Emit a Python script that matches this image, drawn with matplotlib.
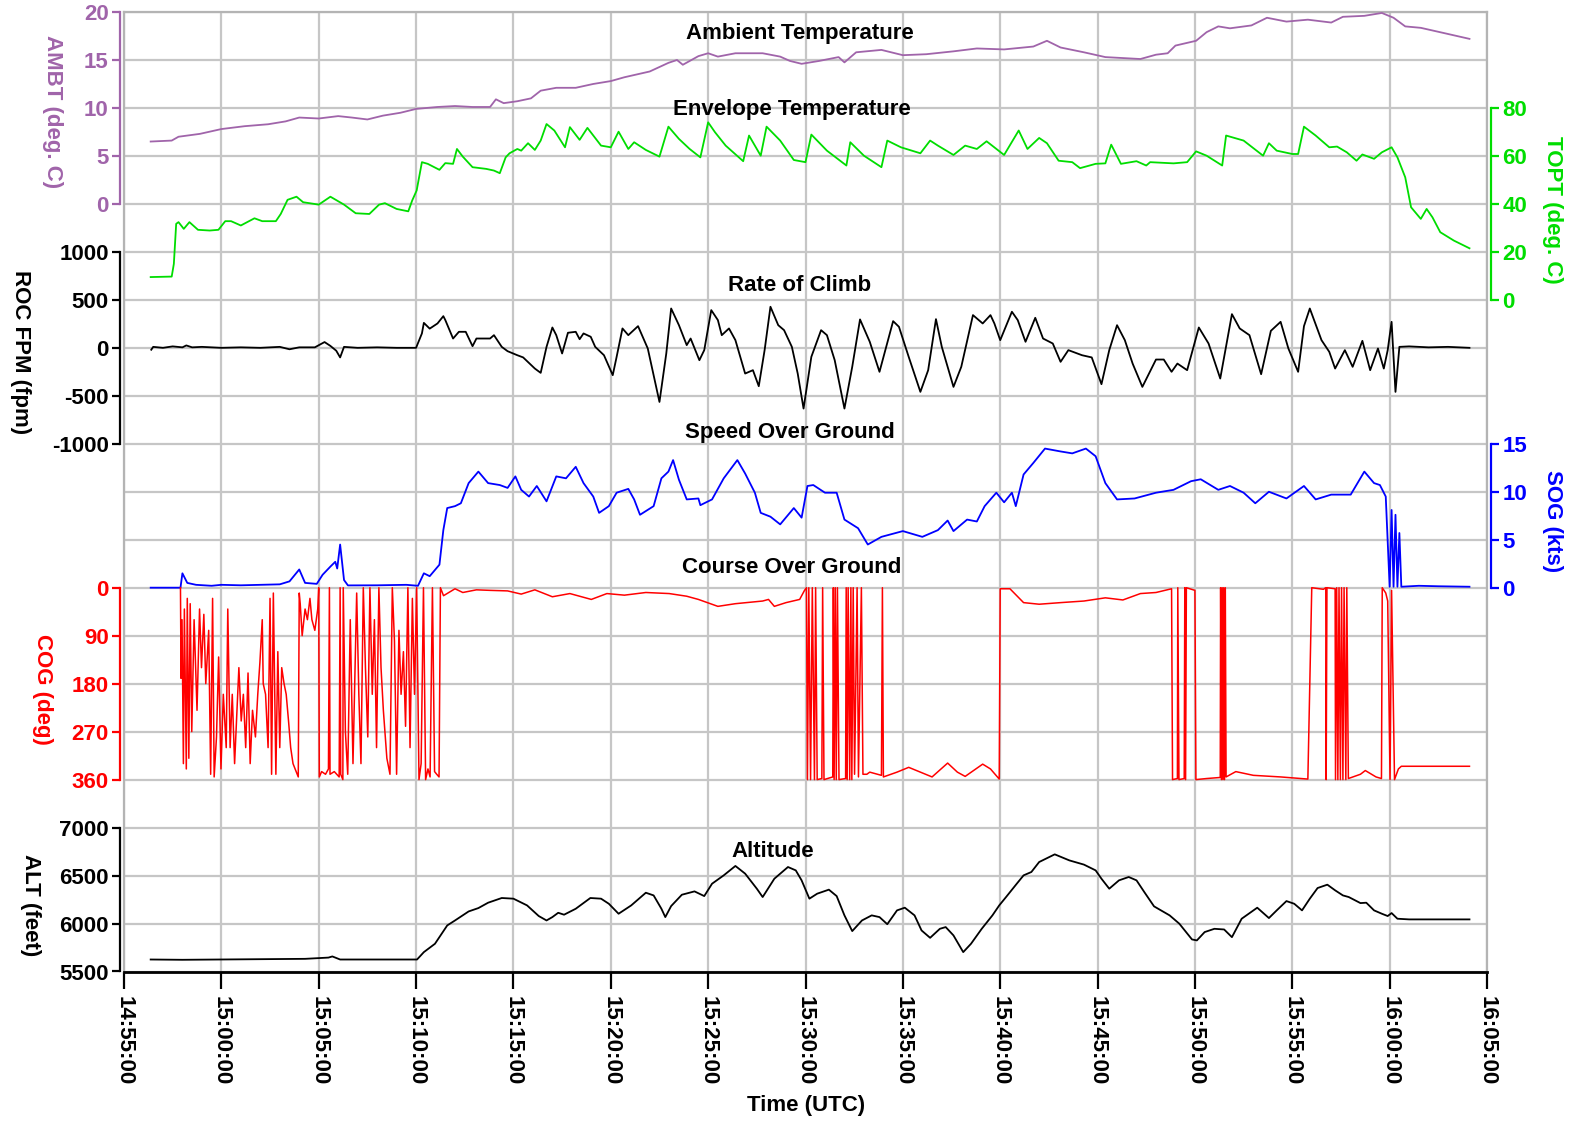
import matplotlib
matplotlib.use("Agg")
import matplotlib.pyplot as plt

plt.rcParams['font.family'] = ['Liberation Sans', 'DejaVu Sans']
plt.rcParams['font.weight'] = 'bold'

# ---------------- data (time in minutes after 14:55:00) ----------------
x_ticks = [0, 5, 10, 15, 20, 25, 30, 35, 40, 45, 50, 55, 60, 65, 70]
x_tick_labels = ["14:55:00", "15:00:00", "15:05:00", "15:10:00", "15:15:00",
                 "15:20:00", "15:25:00", "15:30:00", "15:35:00", "15:40:00",
                 "15:45:00", "15:50:00", "15:55:00", "16:00:00", "16:05:00"]

ambt = [(1.37, 6.5), (2.45, 6.6), (2.8, 7.0), (3.9, 7.3), (5.0, 7.8), (6.2, 8.1), (7.4, 8.3),
        (8.3, 8.6), (9.0, 9.0), (10.0, 8.9), (11.0, 9.15), (11.7, 9.0), (12.5, 8.8), (13.3, 9.2),
        (14.2, 9.5), (15.0, 9.9), (16.1, 10.1), (17.0, 10.2), (17.9, 10.1), (18.8, 10.1),
        (19.1, 10.9), (19.5, 10.5), (20.2, 10.7), (20.9, 11.0), (21.4, 11.8), (22.2, 12.1),
        (23.2, 12.1), (24.1, 12.5), (25.0, 12.8), (25.7, 13.2), (27.0, 13.8), (27.96, 14.7),
        (28.4, 15.0), (28.7, 14.5), (29.5, 15.4), (30.0, 15.7), (30.5, 15.35), (31.4, 15.7),
        (32.8, 15.7), (33.7, 15.35), (34.2, 14.9), (34.8, 14.6), (35.7, 14.9), (36.7, 15.3),
        (37.0, 14.75), (37.6, 15.8), (38.9, 16.05), (40.0, 15.5), (41.2, 15.6), (42.6, 15.9),
        (43.8, 16.2), (45.2, 16.1), (46.7, 16.4), (47.4, 17.0), (48.1, 16.3), (49.3, 15.8),
        (50.4, 15.3), (52.2, 15.1), (53.0, 15.55), (53.6, 15.7), (54.0, 16.5), (55.06, 17.0),
        (55.6, 17.9), (56.2, 18.5), (56.8, 18.3), (57.9, 18.6), (58.7, 19.4), (59.7, 19.0),
        (60.8, 19.2), (62.0, 18.9), (62.6, 19.5), (63.7, 19.6), (64.6, 19.9), (65.2, 19.4),
        (65.8, 18.5), (66.6, 18.35), (67.8, 17.8), (69.1, 17.2)]

topt = [(1.37, 9.5), (2.45, 9.7), (2.56, 15), (2.68, 31.7), (2.8, 32.4), (3.07, 29.6), (3.36, 32.4),
        (3.8, 29.2), (4.4, 28.9), (4.85, 29.2), (5.2, 32.8), (5.5, 32.8), (6.0, 31.0), (6.7, 34.0),
        (7.1, 32.8), (7.8, 32.8), (8.05, 35.8), (8.4, 41.7), (8.86, 43.0), (9.2, 40.7), (10.0, 39.7),
        (10.6, 43.0), (11.3, 39.7), (11.9, 36.1), (12.6, 35.8), (13.1, 39.7), (13.4, 40.3),
        (14.0, 37.9), (14.6, 36.9), (14.8, 41.4), (15.03, 45.6), (15.3, 57.4), (15.6, 56.7),
        (16.2, 54.2), (16.5, 57.0), (16.9, 56.7), (17.1, 62.9), (17.4, 59.7), (17.9, 55.3),
        (18.6, 54.6), (19.0, 53.9), (19.3, 52.8), (19.6, 59.4), (19.8, 61.1), (20.2, 62.9),
        (20.4, 62.2), (20.75, 65.3), (21.1, 62.5), (21.4, 66.4), (21.7, 73.3), (22.1, 70.6),
        (22.65, 63.6), (22.9, 72.0), (23.4, 66.7), (23.8, 71.7), (24.5, 64.3), (25.0, 63.6),
        (25.4, 70.1), (25.9, 62.9), (26.2, 65.7), (26.8, 62.5), (27.5, 59.7), (27.96, 72.2),
        (28.5, 67.1), (29.05, 62.9), (29.6, 59.4), (30.0, 74.0), (30.35, 69.9), (30.9, 64.3),
        (31.8, 57.8), (32.1, 68.5), (32.7, 60.1), (33.0, 72.2), (33.7, 66.4), (34.4, 58.3),
        (35.0, 57.4), (35.3, 68.9), (36.1, 62.2), (37.1, 56.0), (37.3, 65.7), (38.0, 60.1),
        (38.9, 55.3), (39.2, 66.4), (39.9, 63.6), (40.9, 61.1), (41.4, 66.4), (41.8, 64.3),
        (42.6, 60.4), (43.2, 64.3), (43.8, 62.9), (44.3, 66.1), (45.2, 60.4), (45.95, 70.6),
        (46.4, 62.9), (47.0, 67.5), (47.4, 65.3), (48.0, 58.0), (48.7, 57.4), (49.1, 54.9),
        (49.9, 56.7), (50.4, 56.9), (50.7, 64.7), (51.2, 56.7), (52.0, 57.8), (52.5, 56.0),
        (52.7, 57.4), (53.9, 56.9), (54.6, 57.4), (55.06, 61.9), (55.6, 60.1), (56.4, 56.0),
        (56.6, 68.5), (57.5, 66.4), (58.5, 60.1), (58.8, 65.3), (59.2, 62.2), (60.0, 60.8),
        (60.3, 60.8), (60.6, 72.2), (61.2, 68.5), (61.9, 63.6), (62.3, 63.9), (62.8, 61.5),
        (63.3, 58.0), (63.6, 60.6), (64.2, 58.8), (64.6, 61.5), (65.1, 63.6), (65.4, 59.4),
        (65.8, 51.1), (66.1, 38.6), (66.6, 33.75), (66.9, 37.9), (67.2, 34.4), (67.6, 28.2),
        (68.3, 24.7), (69.1, 21.5)]

roc = [(1.4, -20), (1.5, 10), (2.0, 0), (2.5, 15), (3.0, 5), (3.2, 25), (3.5, 5), (4.0, 10),
       (5.0, 0), (6.0, 5), (7.0, 0), (8.0, 10), (8.5, -15), (9.0, 5), (9.8, 5), (10.3, 60),
       (10.6, 20), (10.9, -30), (11.1, -100), (11.3, 10), (12.0, 0), (13.0, 5), (14.0, 0),
       (15.0, 0), (15.3, 150), (15.4, 260), (15.7, 200), (16.1, 254), (16.4, 330), (16.5, 290),
       (16.9, 97), (17.2, 167), (17.55, 167), (17.9, 17), (18.1, 97), (18.8, 97), (19.0, 132),
       (19.4, 10), (19.7, -35), (20.2, -77), (20.5, -100), (21.1, -216), (21.4, -261), (21.7, 10),
       (22.0, 212), (22.2, 132), (22.5, -59), (22.8, 157), (23.2, 167), (23.4, 90), (23.6, 150),
       (23.97, 115), (24.2, 10), (24.65, -77), (25.1, -285), (25.3, -94), (25.6, 202),
       (25.9, 132), (26.4, 226), (26.9, -7), (27.5, -564), (27.85, -59), (28.1, 410),
       (28.5, 236), (28.9, 28), (29.1, 97), (29.55, -129), (29.8, -24), (30.16, 393),
       (30.5, 289), (30.7, 132), (31.07, 202), (31.4, 80), (31.9, -268), (32.3, -233),
       (32.6, -400), (32.9, -24), (33.2, 428), (33.6, 236), (33.9, 184), (34.3, 10),
       (34.6, -268), (34.9, -633), (35.3, -94), (35.8, 184), (36.1, 132), (36.5, -129),
       (37.0, -633), (37.4, -198), (37.8, 296), (38.3, 63), (38.8, -250), (39.1, -24),
       (39.5, 278), (39.8, 219), (40.3, -94), (40.9, -459), (41.3, -233), (41.7, 299),
       (42.0, 10), (42.6, -407), (43.0, -198), (43.6, 341), (44.1, 254), (44.5, 341),
       (44.7, 254), (45.0, 80), (45.6, 376), (45.9, 289), (46.3, 63), (46.8, 313), (47.2, 97),
       (47.7, 45), (48.1, -146), (48.5, -24), (49.2, -77), (49.7, -100), (50.2, -379),
       (50.6, -24), (51.0, 236), (51.4, 80), (51.8, -164), (52.3, -407), (53.0, -122),
       (53.4, -122), (53.8, -250), (54.1, -164), (54.6, -233), (55.2, 212), (55.7, 45),
       (56.3, -320), (56.9, 351), (57.3, 202), (57.8, 132), (58.4, -275), (58.9, 177),
       (59.4, 271), (59.8, -7), (60.3, -250), (60.6, 226), (60.9, 410), (61.5, 80), (61.9, -42),
       (62.2, -216), (62.7, -24), (63.1, -198), (63.6, 73), (64.0, -233), (64.4, -7),
       (64.7, -216), (64.9, -24), (65.1, 271), (65.3, -459), (65.5, 10), (66.0, 15),
       (67.0, 5), (68.0, 10), (69.1, 0)]

sog = [(1.37, 0), (2.9, 0), (3.0, 1.5), (3.25, 0.5), (3.7, 0.3), (4.5, 0.2), (5.0, 0.3), (6.0, 0.25),
       (7.0, 0.3), (8.0, 0.35), (8.5, 0.66), (9.0, 1.9), (9.3, 0.5), (9.9, 0.4), (10.2, 1.35),
       (10.6, 2.2), (10.85, 2.7), (10.95, 2.0), (11.1, 4.5), (11.3, 0.8), (11.5, 0.24), (13.0, 0.25),
       (14.5, 0.3), (15.1, 0.2), (15.4, 1.5), (15.7, 1.2), (16.2, 2.4), (16.4, 6.0), (16.6, 8.3),
       (17.0, 8.5), (17.3, 8.8), (17.7, 10.9), (18.2, 12.1), (18.7, 10.9), (19.3, 10.7),
       (19.7, 10.4), (20.1, 11.6), (20.4, 10.2), (20.8, 9.5), (21.2, 10.6), (21.7, 9.0),
       (22.2, 11.6), (22.7, 11.4), (23.2, 12.6), (23.6, 10.9), (24.1, 9.5), (24.4, 7.8),
       (24.9, 8.5), (25.3, 9.9), (25.9, 10.3), (26.2, 9.2), (26.5, 7.6), (27.2, 8.5), (27.6, 11.4),
       (27.96, 12.1), (28.2, 13.3), (28.5, 11.25), (28.9, 9.2), (29.5, 9.3), (29.6, 8.6),
       (30.2, 9.2), (30.8, 11.4), (31.5, 13.3), (31.9, 11.9), (32.4, 9.9), (32.7, 7.8),
       (33.2, 7.4), (33.7, 6.6), (34.4, 8.3), (34.8, 7.3), (35.1, 10.6), (35.4, 10.7), (36.0, 9.9),
       (36.6, 9.9), (37.0, 7.1), (37.7, 6.2), (38.2, 4.5), (38.9, 5.3), (40.0, 5.9), (41.0, 5.3),
       (41.8, 6.0), (42.3, 7.0), (42.6, 5.9), (43.3, 7.1), (43.8, 6.9), (44.2, 8.5), (44.8, 9.9),
       (45.2, 8.9), (45.6, 9.9), (45.8, 8.5), (46.2, 11.8), (46.7, 13.0), (47.3, 14.5),
       (48.1, 14.2), (48.7, 14.0), (49.4, 14.5), (49.9, 13.7), (50.4, 10.9), (51.0, 9.2),
       (51.9, 9.3), (53.0, 9.9), (53.9, 10.2), (54.8, 11.1), (55.3, 11.3), (56.2, 10.2),
       (56.8, 10.6), (57.5, 9.9), (58.1, 8.8), (58.8, 10.0), (59.7, 9.3), (60.6, 10.6),
       (61.2, 9.2), (62.0, 9.7), (63.0, 9.7), (63.7, 12.1), (64.2, 10.9), (64.5, 10.7),
       (64.8, 9.5), (65.0, 0.1), (65.1, 8.1), (65.2, 0.1), (65.3, 7.6), (65.4, 0.1), (65.5, 5.7),
       (65.6, 0.1), (66.5, 0.2), (67.5, 0.15), (69.1, 0.1)]

cog = [(2.90, 0), (2.93, 170), (2.98, 60), (3.05, 330), (3.10, 40), (3.20, 340), (3.25, 20),
       (3.33, 320), (3.40, 30), (3.48, 270), (3.60, 60), (3.75, 230), (3.88, 40), (3.98, 150),
       (4.10, 50), (4.20, 180), (4.35, 80), (4.45, 350), (4.55, 20), (4.63, 355), (4.75, 280),
       (4.86, 130), (4.98, 340), (5.10, 200), (5.25, 300), (5.33, 40), (5.45, 300), (5.56, 200),
       (5.68, 330), (5.80, 230), (5.90, 150), (6.02, 250), (6.13, 200), (6.25, 300), (6.37, 160),
       (6.48, 330), (6.60, 230), (6.75, 280), (6.87, 200), (6.98, 140), (7.10, 60), (7.15, 180),
       (7.27, 200), (7.40, 300), (7.50, 20), (7.58, 350), (7.67, 10), (7.80, 350), (7.90, 120),
       (8.00, 300), (8.10, 150), (8.22, 180), (8.33, 200), (8.45, 250), (8.56, 300), (8.68, 330),
       (8.90, 350), (8.95, 355), (9.00, 10), (9.05, 30), (9.15, 90), (9.30, 40), (9.42, 60),
       (9.55, 20), (9.65, 60), (9.80, 80), (9.95, 40), (10.00, 0), (10.03, 355), (10.15, 345),
       (10.35, 350), (10.50, 340), (10.55, 0), (10.58, 350), (10.80, 345), (11.05, 355),
       (11.10, 0), (11.13, 350), (11.24, 360), (11.26, 0), (11.37, 270), (11.49, 350),
       (11.62, 60), (11.76, 330), (11.95, 10), (12.06, 200), (12.17, 330), (12.29, 0),
       (12.40, 150), (12.52, 280), (12.63, 0), (12.75, 200), (12.86, 60), (12.97, 300),
       (13.09, 0), (13.20, 150), (13.32, 230), (13.50, 320), (13.66, 350), (13.78, 0),
       (13.89, 100), (14.00, 350), (14.12, 80), (14.23, 200), (14.35, 120), (14.46, 260),
       (14.58, 0), (14.69, 300), (14.81, 20), (14.92, 200), (15.03, 0), (15.15, 360),
       (15.26, 330), (15.38, 0), (15.49, 360), (15.61, 340), (15.72, 355), (15.84, 0),
       (15.95, 345), (16.06, 350), (16.18, 355), (16.25, 0), (16.41, 15), (17.0, 2), (17.4, 9),
       (18.1, 4), (18.8, 5), (19.7, 6), (20.4, 12), (21.1, 4), (22.0, 17), (22.9, 11), (24.0, 22),
       (24.8, 11), (25.7, 14), (26.8, 9), (28.0, 11), (28.9, 16), (29.5, 22), (30.5, 35),
       (31.4, 30), (32.8, 25), (33.1, 22), (33.4, 35), (34.0, 28), (34.7, 22), (34.95, 5),
       (35.05, 0), (35.10, 360), (35.17, 0), (35.26, 360), (35.35, 0), (35.46, 360), (35.52, 0),
       (35.60, 360), (35.84, 358), (35.88, 0), (35.95, 360), (36.40, 355), (36.43, 0),
       (36.47, 360), (36.53, 0), (36.58, 360), (36.64, 0), (36.72, 360), (37.06, 358),
       (37.09, 0), (37.14, 360), (37.19, 0), (37.27, 360), (37.33, 0), (37.38, 360), (37.45, 0),
       (37.52, 350), (37.65, 0), (37.72, 355), (37.87, 0), (37.95, 350), (38.15, 350),
       (38.3, 346), (38.90, 352), (38.95, 0), (39.0, 355), (39.7, 346), (40.3, 337), (40.9, 346),
       (41.5, 355), (42.3, 329), (42.8, 346), (43.2, 354), (44.1, 331), (44.5, 340),
       (44.95, 359), (45.0, 2), (45.5, 2), (46.2, 28), (47.0, 31), (48.1, 28), (49.3, 25),
       (50.4, 19), (51.3, 23), (52.2, 11), (53.0, 9), (53.8, 2), (53.85, 360), (54.10, 358),
       (54.12, 0), (54.18, 360), (54.45, 358), (54.48, 0), (54.52, 360), (54.56, 0), (55.0, 5),
       (55.05, 360), (55.6, 358), (56.30, 356), (56.32, 0), (56.36, 360), (56.40, 0),
       (56.44, 360), (56.48, 0), (56.52, 360), (56.56, 0), (56.60, 355), (57.1, 345),
       (58.0, 352), (59.4, 355), (60.8, 359), (61.0, 0), (61.6, 3), (61.72, 0), (61.74, 360),
       (61.78, 0), (62.2, 2), (62.22, 360), (62.28, 0), (62.34, 360), (62.40, 0), (62.47, 360),
       (62.53, 0), (62.6, 360), (62.66, 0), (62.75, 360), (62.8, 0), (62.88, 358), (63.5, 350),
       (63.75, 343), (64.3, 355), (64.58, 358), (64.62, 0), (64.8, 10), (64.9, 25),
       (65.02, 360), (65.1, 5), (65.25, 360), (65.45, 340), (65.6, 335), (69.1, 335)]

alt = [(1.37, 5625), (3.0, 5622), (9.3, 5632), (10.5, 5645), (10.7, 5657), (11.1, 5625),
       (15.05, 5625), (15.4, 5702), (15.97, 5789), (16.6, 5980), (17.0, 6032), (17.7, 6126),
       (18.2, 6161), (18.7, 6217), (19.4, 6266), (20.0, 6259), (20.7, 6189), (21.3, 6078),
       (21.7, 6032), (22.0, 6067), (22.3, 6112), (22.6, 6092), (23.2, 6154), (23.95, 6266),
       (24.5, 6259), (24.9, 6206), (25.4, 6102), (26.05, 6189), (26.8, 6321), (27.2, 6293),
       (27.6, 6154), (27.8, 6067), (28.1, 6182), (28.65, 6300), (29.3, 6335), (29.8, 6286),
       (30.2, 6415), (30.8, 6502), (31.4, 6600), (31.9, 6520), (32.5, 6363), (32.8, 6276),
       (33.4, 6467), (34.1, 6589), (34.5, 6554), (34.8, 6450), (35.2, 6259), (35.6, 6311),
       (36.2, 6353), (36.6, 6286), (37.0, 6085), (37.4, 5921), (37.9, 6032), (38.4, 6085),
       (38.8, 6067), (39.2, 5993), (39.7, 6137), (40.1, 6165), (40.6, 6085), (40.96, 5928),
       (41.4, 5851), (41.9, 5945), (42.2, 5963), (42.6, 5876), (43.1, 5702), (43.5, 5789),
       (44.05, 5945), (44.6, 6085), (44.95, 6189), (45.3, 6276), (45.85, 6415), (46.2, 6502),
       (46.6, 6537), (47.0, 6641), (47.8, 6721), (48.55, 6658), (49.3, 6614), (49.9, 6554),
       (50.2, 6467), (50.6, 6363), (51.1, 6450), (51.6, 6485), (52.0, 6450), (52.4, 6328),
       (52.9, 6179), (53.7, 6085), (54.2, 5998), (54.85, 5834), (55.1, 5824), (55.5, 5911),
       (56.0, 5945), (56.5, 5938), (56.9, 5858), (57.4, 6050), (58.2, 6165), (58.8, 6057),
       (59.2, 6137), (59.7, 6234), (60.1, 6206), (60.5, 6137), (60.9, 6259), (61.3, 6370),
       (61.8, 6405), (62.2, 6346), (62.6, 6293), (62.9, 6276), (63.5, 6213), (63.8, 6217),
       (64.2, 6137), (64.6, 6102), (64.9, 6078), (65.1, 6109), (65.4, 6050), (66.0, 6043),
       (69.1, 6043)]

ambt_ticks = [0, 5, 10, 15, 20]
topt_ticks = [0, 20, 40, 60, 80]
roc_ticks = [-1000, -500, 0, 500, 1000]
sog_ticks = [0, 5, 10, 15]
cog_ticks = [0, 90, 180, 270, 360]
alt_ticks = [5500, 6000, 6500, 7000]

# ---------------- styling ----------------
PURPLE = '#a064aa'
GREEN = '#00dd00'
BLUE = '#0000ff'
RED = '#ff0000'
BLACK = '#000000'
FS = 16
W, H = 1574, 1126

fig = plt.figure(figsize=(W / 100, H / 100), dpi=100)
left_px, right_px, top_px, bot_px = 124, 1487, 12, 971.5
rect = [left_px / W, 1 - bot_px / H, (right_px - left_px) / W, (bot_px - top_px) / H]

base = fig.add_axes(rect)
base.set_xlim(0, 70)
base.set_ylim(0, 20)
base.set_xticks(x_ticks)
base.set_xticklabels(x_tick_labels, rotation=-90, fontsize=FS, fontweight='bold',
                     va='top', ha='center')
base.set_yticks(range(21))
base.tick_params(axis='y', length=0, labelleft=False)
base.tick_params(axis='x', length=12, width=1.6, direction='out', pad=6, colors=BLACK)
base.grid(True, color='#c6c6c6', lw=1.6)
base.set_axisbelow(True)
for s in ['top', 'right', 'left']:
    base.spines[s].set_color('#b4b4b4')
    base.spines[s].set_linewidth(1.6)
base.spines['bottom'].set_color(BLACK)
base.spines['bottom'].set_linewidth(2)


def overlay(ylim, side, ticks, color):
    ax = fig.add_axes(rect, sharex=base)
    ax.patch.set_visible(False)
    ax.set_ylim(*ylim)
    for s in ax.spines.values():
        s.set_visible(False)
    sp = ax.spines[side]
    sp.set_visible(True)
    sp.set_color(color)
    sp.set_linewidth(1.6)
    sp.set_bounds(min(ticks), max(ticks))
    sp.set_position(('outward', 3))
    ax.xaxis.set_visible(False)
    ax.yaxis.set_ticks_position(side)
    ax.set_yticks(ticks)
    ax.set_yticklabels([str(t) for t in ticks], fontsize=FS, fontweight='bold', color=color)
    ax.tick_params(axis='y', colors=color, length=6, width=1.6, direction='out', pad=2)
    return ax


def draw(ax, pairs, color, lw=1.3):
    t, v = zip(*pairs)
    ax.plot(t, v, color=color, lw=lw)


ax_ambt = overlay((-80, 20), 'left', ambt_ticks, PURPLE)
draw(ax_ambt, ambt, PURPLE)
ax_topt = overlay((-280, 120), 'right', topt_ticks, GREEN)
draw(ax_topt, topt, GREEN)
ax_roc = overlay((-6500, 3500), 'left', roc_ticks, BLACK)
draw(ax_roc, roc, BLACK)
ax_sog = overlay((-40, 60), 'right', sog_ticks, BLUE)
draw(ax_sog, sog, BLUE)
ax_cog = overlay((720, -1080), 'left', cog_ticks, RED)
draw(ax_cog, cog, RED, lw=1.1)
ax_alt = overlay((5500, 15500), 'left', alt_ticks, BLACK)
draw(ax_alt, alt, BLACK)

# panel titles (position in base coordinates: minutes, grid divisions)
titles = [("Ambient Temperature", 34.7, 19.56), ("Envelope Temperature", 34.3, 17.97),
          ("Rate of Climb", 34.7, 14.29), ("Speed Over Ground", 34.2, 11.23),
          ("Course Over Ground", 34.3, 8.43), ("Altitude", 33.3, 2.51)]
for txt, xx, yy in titles:
    base.text(xx, yy, txt, ha='center', va='center', fontsize=FS, fontweight='bold',
              color=BLACK, zorder=10)

# axis labels
labels = [("AMBT (deg. C)", 52, 112, PURPLE), ("ROC FPM (fpm)", 20, 352, BLACK),
          ("COG (deg)", 42, 689, RED), ("ALT (feet)", 30, 905, BLACK),
          ("TOPT (deg. C)", 1553, 210, GREEN), ("SOG (kts)", 1553, 521, BLUE)]
for txt, px, py, c in labels:
    fig.text(px / W, 1 - py / H, txt, rotation=-90, ha='center', va='center',
             fontsize=FS, fontweight='bold', color=c)
fig.text(806 / W, 1 - 1106 / H, "Time (UTC)", ha='center', va='center',
         fontsize=FS, fontweight='bold', color=BLACK)

fig.savefig("out.png", dpi=100)
